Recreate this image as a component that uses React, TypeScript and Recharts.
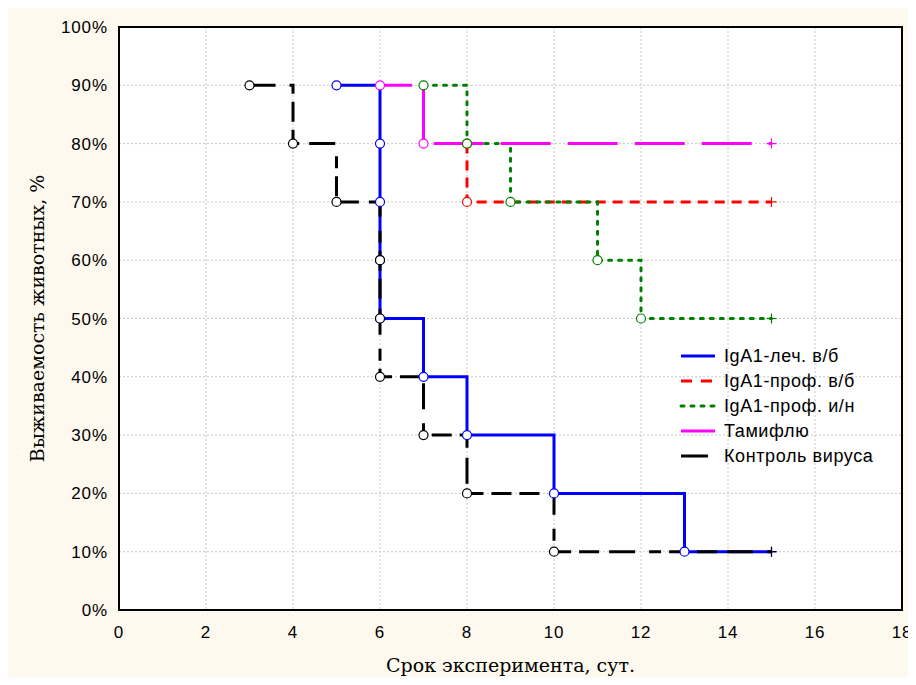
import React from 'react';
import { LineChart, Line, XAxis, YAxis, CartesianGrid, ReferenceArea, Label } from 'recharts';

// Ticks
const xTicks = [0, 2, 4, 6, 8, 10, 12, 14, 16, 18];
const yTicks = [0, 10, 20, 30, 40, 50, 60, 70, 80, 90, 100];

// Kaplan–Meier curves: event times (days) and survival (%); first = start, last = censored end
const igaTreatT = [5, 6, 6, 6, 6, 7, 8, 10, 13, 15];
const igaTreatS = [90, 80, 70, 60, 50, 40, 30, 20, 10, 10];

const igaProfIvT = [8, 8, 15];
const igaProfIvS = [80, 70, 70];

const igaProfInT = [7, 8, 9, 11, 12, 15];
const igaProfInS = [90, 80, 70, 60, 50, 50];

const tamifluT = [6, 7, 15];
const tamifluS = [90, 80, 80];

const controlT = [3, 4, 5, 6, 6, 6, 7, 8, 10, 15];
const controlS = [90, 80, 70, 60, 50, 40, 30, 20, 10, 10];

const seriesNames = ['IgA1-леч. в/б', 'IgA1-проф. в/б', 'IgA1-проф. и/н', 'Тамифлю', 'Контроль вируса'];
const seriesColors = ['#0000ff', '#ff0000', '#008000', '#ff00ff', '#000000'];
const seriesDash = [
  'none',
  '10 7',
  '3 7',
  '32 12 58 10 50 17 50 17 50 17 50 17 50 17 50 17 50 60',
  '26 14 12 8 20 8 20 10',
];
const legendDash = ['none', '11 9', '3 7', 'none', 'none'];
const legendLen = [34, 34, 34, 34, 27];

type Pt = { x: number; y: number; m: string | null };

function toSteps(t: number[], s: number[]): Pt[] {
  const out: Pt[] = [];
  for (let i = 0; i < t.length; i++) {
    const last = i === t.length - 1;
    if (i > 0 && t[i] !== t[i - 1] && s[i] !== s[i - 1]) {
      out.push({ x: t[i], y: s[i - 1], m: null });
    }
    out.push({ x: t[i], y: s[i], m: last ? '+' : 'o' });
  }
  return out;
}

const curves = [
  toSteps(igaTreatT, igaTreatS),
  toSteps(igaProfIvT, igaProfIvS),
  toSteps(igaProfInT, igaProfInS),
  toSteps(tamifluT, tamifluS),
  toSteps(controlT, controlS),
];

const makeDot = (color: string) => (props: any) => {
  const { cx, cy, payload, index } = props;
  if (!payload || !payload.m || cx == null || cy == null) return <g key={`d${index}`} />;
  if (payload.m === '+') {
    return (
      <g key={`d${index}`}>
        <line x1={cx - 5} x2={cx + 5} y1={cy} y2={cy} stroke={color} strokeWidth={1.2} strokeDasharray="none" />
        <line x1={cx} x2={cx} y1={cy - 5} y2={cy + 5} stroke={color} strokeWidth={1.2} strokeDasharray="none" />
      </g>
    );
  }
  return (
    <circle key={`d${index}`} cx={cx} cy={cy} r={4.5} fill="#ffffff" stroke={color} strokeWidth={1.2} strokeDasharray="none" />
  );
};

const LegendBox = () => (
  <svg width={230} height={130} style={{ display: 'block' }}>
    {seriesNames.map((n, i) => {
      const y = 12 + i * 25;
      return (
        <g key={n}>
          <line x1={3} x2={3 + legendLen[i]} y1={y} y2={y} stroke={seriesColors[i]} strokeWidth={3}
            strokeDasharray={legendDash[i]} strokeLinecap={i === 2 ? 'round' : 'butt'} />
          <text x={46} y={y + 6} fontFamily="'Liberation Sans', Arial, sans-serif" fontSize={18} letterSpacing={0.6} fill="#000">{n}</text>
        </g>
      );
    })}
  </svg>
);

const tickFont = { fontFamily: "'Liberation Sans', Arial, sans-serif", fontSize: 17, letterSpacing: 0.9, fill: '#000' };
const titleFont = "'DejaVu Serif', 'Liberation Serif', serif";
const innerTick = { stroke: '#000', strokeWidth: 1.5 };

export default function App() {
  return (
    <div style={{ position: 'relative', width: 908, height: 677, marginBottom: -8, background: '#fdf9ee' }}>
      <LineChart width={908} height={677} margin={{ top: 19, right: 14, bottom: 0, left: 0 }}>
        <CartesianGrid stroke="#c8c8c8" strokeDasharray="2 2" fill="#ffffff" />
        <XAxis
          type="number"
          dataKey="x"
          domain={[0, 18]}
          ticks={xTicks}
          allowDataOverflow
          height={75}
          tickLine={false}
          tickMargin={10}
          axisLine={{ stroke: '#000', strokeWidth: 2 }}
          tick={tickFont}
        >
          <Label
            content={(p: any) => {
              const vb = p.viewBox;
              return (
                <text x={vb.x + vb.width / 2} y={vb.y + 62} textAnchor="middle"
                  fontFamily={titleFont} fontSize={19} fill="#000">
                  Срок эксперимента, сут.
                </text>
              );
            }}
          />
        </XAxis>
        <XAxis xAxisId="top" orientation="top" type="number" domain={[0, 18]} ticks={xTicks} mirror
          tick={false} axisLine={false} tickSize={4} tickLine={innerTick} height={0} />
        <YAxis
          type="number"
          domain={[0, 100]}
          ticks={yTicks}
          width={111}
          tickLine={false}
          tickMargin={5}
          axisLine={{ stroke: '#000', strokeWidth: 2 }}
          tickFormatter={(v: number) => `${v}%`}
          tick={tickFont}
        >
          <Label
            content={(p: any) => {
              const vb = p.viewBox;
              const cx = vb.x + 36;
              const cy = vb.y + vb.height / 2;
              return (
                <text x={cx} y={cy} transform={`rotate(-90 ${cx} ${cy})`} textAnchor="middle"
                  fontFamily={titleFont} fontSize={19} fill="#000">
                  Выживаемость животных, %
                </text>
              );
            }}
          />
        </YAxis>
        <YAxis yAxisId="right" orientation="right" type="number" domain={[0, 100]} ticks={yTicks} mirror
          tick={false} axisLine={false} tickSize={4} tickLine={innerTick} width={0} />
        <ReferenceArea x1={0} x2={18} y1={0} y2={100} fill="none" fillOpacity={0} stroke="#000" strokeWidth={2} ifOverflow="visible" />
        {curves.map((c, i) => (
          <Line
            key={seriesNames[i]}
            data={c}
            dataKey="y"
            name={seriesNames[i]}
            type="linear"
            stroke={seriesColors[i]}
            strokeWidth={3}
            strokeDasharray={seriesDash[i]}
            strokeLinecap={i === 2 ? 'round' : 'butt'}
            dot={makeDot(seriesColors[i])}
            activeDot={false}
            isAnimationActive={false}
          />
        ))}
      </LineChart>
      <div style={{ position: 'absolute', left: 670, top: 336 }}>
        <LegendBox />
      </div>
    </div>
  );
}
